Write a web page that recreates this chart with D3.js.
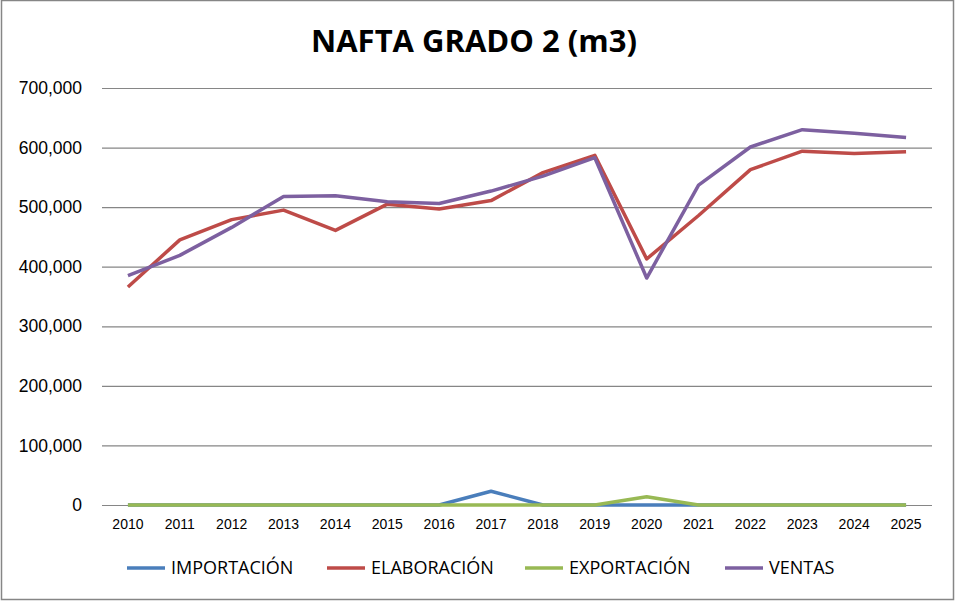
<!DOCTYPE html>
<html>
<head>
<meta charset="utf-8">
<script src="https://cdn.jsdelivr.net/npm/d3@7"></script>
<style>
  body { margin: 0; background: #fff; }
  svg { display: block; font-family: "Liberation Sans Narrow", "Open Sans", sans-serif; }
</style>
</head>
<body>
<svg width="955" height="601"></svg>
<script>
// chart data
const years = ["2010","2011","2012","2013","2014","2015","2016","2017","2018","2019","2020","2021","2022","2023","2024","2025"];
const importacion = [0,0,0,0,0,0,0,23000,0,0,0,0,0,0,0,0];
const elaboracion = [366000,445000,479000,495000,461000,505000,497000,511000,558000,587000,413000,486000,563000,594000,590000,593000];
const exportacion = [0,0,0,0,0,0,0,0,0,0,14000,0,0,0,0,0];
const ventas = [385000,419000,466000,518000,519000,509000,506000,527000,552000,583000,381000,537000,601000,630000,624000,617000];
const yTicks = [0,100000,200000,300000,400000,500000,600000,700000];

const series = [
  {name: "IMPORTACIÓN", values: importacion, color: "#4a7ebb"},
  {name: "ELABORACIÓN", values: elaboracion, color: "#be4b48"},
  {name: "EXPORTACIÓN", values: exportacion, color: "#98b954"},
  {name: "VENTAS", values: ventas, color: "#7d60a0"}
];

const width = 955;
const height = 601;
const marginTop = 88;
const marginRight = 23;
const marginBottom = 96;
const marginLeft = 102;

const svg = d3.select("svg");

// outer border
svg.append("rect")
    .attr("x", 1.5).attr("y", 0.5)
    .attr("width", width - 3).attr("height", height - 2)
    .attr("fill", "#fff")
    .attr("stroke", "#868686")
    .attr("stroke-width", 1.5);

svg.append("text")
    .attr("x", 474).attr("y", 52)
    .attr("text-anchor", "middle")
    .style("font-family", "'Open Sans', sans-serif")
    .style("font-weight", "bold")
    .style("font-size", "31px")
    .text("NAFTA GRADO 2 (m3)");

const x = d3.scaleBand()
    .domain(years)
    .range([marginLeft, width - marginRight]);

const y = d3.scaleLinear()
    .domain([0, 700000])
    .range([height - marginBottom, marginTop]);

// gridlines + y labels
const yAxis = svg.append("g")
    .attr("transform", `translate(${marginLeft},0)`)
    .call(d3.axisLeft(y).tickValues(yTicks)
        .tickSize(-(width - marginRight - marginLeft))
        .tickPadding(20)
        .tickFormat(d3.format(",")));
yAxis.select(".domain").remove();
yAxis.selectAll("line").attr("stroke", "#868686").attr("stroke-width", 1.2);
yAxis.selectAll("text")
    .attr("fill", "#000")
    .style("font-size", "17.5px");

// x labels
const xAxis = svg.append("g")
    .attr("transform", `translate(0,${height - marginBottom})`)
    .call(d3.axisBottom(x).tickSize(0).tickPadding(14));
xAxis.select(".domain").remove();
xAxis.selectAll("text")
    .attr("fill", "#000")
    .style("font-size", "14px");

const line = d3.line()
    .x((d, i) => x(years[i]) + x.bandwidth() / 2)
    .y(d => y(d));

svg.append("g")
  .selectAll("path")
  .data(series)
  .join("path")
    .attr("fill", "none")
    .attr("stroke", d => d.color)
    .attr("stroke-width", 3.5)
    .attr("stroke-linejoin", "round")
    .attr("d", d => line(d.values));

// legend
const legendX = [127, 327, 525, 725];
const legend = svg.append("g")
  .selectAll("g")
  .data(series)
  .join("g")
    .attr("transform", (d, i) => `translate(${legendX[i]},568)`);
legend.append("line")
    .attr("x1", 0).attr("x2", 38)
    .attr("stroke", d => d.color)
    .attr("stroke-width", 3.5);
legend.append("text")
    .attr("x", 44)
    .attr("dy", "0.35em")
    .style("font-size", "18px")
    .text(d => d.name);
</script>
</body>
</html>
